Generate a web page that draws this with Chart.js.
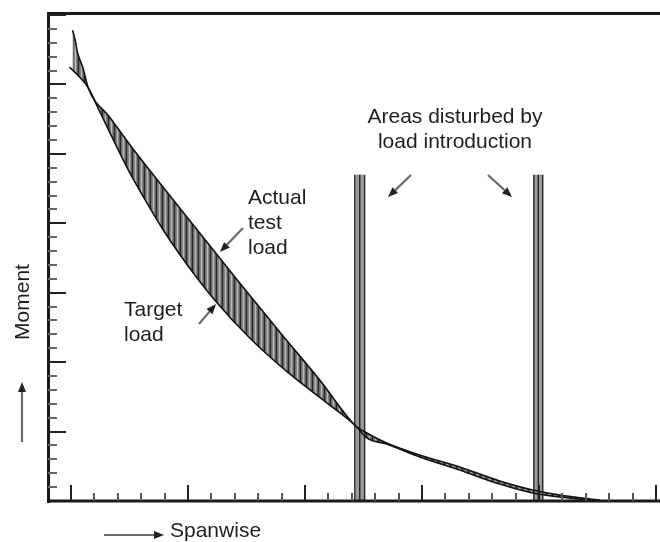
<!DOCTYPE html>
<html><head><meta charset="utf-8">
<script src="https://cdn.jsdelivr.net/npm/chart.js@4.4.1/dist/chart.umd.min.js"></script>
<style>html,body{margin:0;padding:0;background:#fff;}canvas{display:block;}</style>
</head><body>
<canvas id="c" width="660" height="542"></canvas>
<script>
// ---- data (spanwise position, moment) ----
const actualX = [0.07, 0.18, 0.28, 0.50, 0.75, 1.65, 2.72, 4.00, 5.50, 7.21, 8.92, 10.63, 12.17, 12.64, 13.49, 14.90, 16.61, 18.32, 19.73, 20.88, 22.60];
const actualY = [33.9, 33.2, 32.3, 31.25, 29.7, 27.65, 25.2, 22.47, 19.3, 15.7, 12.17, 8.71, 5.4, 4.9, 4.18, 3.31, 2.45, 1.44, 0.79, 0.43, 0.07];
const targetX = [-0.06, 0.37, 0.75, 1.22, 1.86, 2.50, 3.15, 4.00, 5.07, 6.14, 7.64, 9.35, 11.06, 12.17, 12.64, 13.49, 14.90, 16.61, 18.32, 19.73, 20.88, 22.60];
const targetY = [31.25, 30.53, 29.74, 28.08, 25.85, 23.69, 21.75, 19.37, 16.78, 14.48, 11.74, 9.15, 6.91, 5.4, 4.54, 4.1, 3.17, 2.23, 1.22, 0.58, 0.29, 0.0];
const dividerGroups = [[12.13, 12.34, 12.55], [19.78, 19.97, 20.16]];
const dividerTop = 23.5;
const xTickValues = [0,1,2,3,4,5,6,7,8,9,10,11,12,13,14,15,16,17,18,19,20,21,22,23,24,25];
const yTickValues = [1,2,3,4,5,6,7,8,9,10,11,12,13,14,15,16,17,18,19,20,21,22,23,24,25,26,27,28,29,30,31,32,33,34,35];
const majorEvery = 5;
const labels = {
  actual: ['Actual', 'test', 'load'],
  target: ['Target', 'load'],
  areas: ['Areas disturbed by', 'load introduction'],
  xTitle: 'Spanwise',
  yTitle: 'Moment'
};

const canvas = document.getElementById('c');
const ctx0 = canvas.getContext('2d');
function hatchPattern() {
  const p = document.createElement('canvas');
  p.width = 6; p.height = 4;
  const g = p.getContext('2d');
  const cols = ['#262626', '#6e6e6e', '#848484', '#bcbcbc', '#848484', '#606060'];
  cols.forEach((c, i) => { g.fillStyle = c; g.fillRect(i, 0, 1, 4); });
  return ctx0.createPattern(p, 'repeat');
}
const toPts = (xs, ys) => xs.map((x, i) => ({x, y: ys[i]}));

const datasets = [
  { label: 'Actual test load', data: toPts(actualX, actualY), borderColor: '#111', borderWidth: 1.6,
    backgroundColor: hatchPattern(), fill: { target: 1 }, order: 0 },
  { label: 'Target load', data: toPts(targetX, targetY), borderColor: '#111', borderWidth: 1.6, fill: false, order: 0 }
];
dividerGroups.forEach(g => {
  datasets.push({ data: [{x: g[1], y: 0}, {x: g[1], y: dividerTop}], borderColor: '#9a9a9a', borderWidth: 9, fill: false, order: 2 });
  g.forEach(x => datasets.push({ data: [{x, y: 0}, {x, y: dividerTop}], borderColor: '#252525', borderWidth: 1.4, fill: false, order: 1 }));
});

function arrow(ctx, x1, y1, x2, y2) {
  const ang = Math.atan2(y2 - y1, x2 - x1);
  const hl = 10, hw = 4;
  const bx = x2 - Math.cos(ang) * hl, by = y2 - Math.sin(ang) * hl;
  ctx.strokeStyle = '#6a6a6a'; ctx.lineWidth = 2.2;
  ctx.beginPath(); ctx.moveTo(x1, y1); ctx.lineTo(bx, by); ctx.stroke();
  ctx.fillStyle = '#222';
  ctx.beginPath();
  ctx.moveTo(x2, y2);
  ctx.lineTo(bx + Math.sin(ang) * hw, by - Math.cos(ang) * hw);
  ctx.lineTo(bx - Math.sin(ang) * hw, by + Math.cos(ang) * hw);
  ctx.closePath(); ctx.fill();
}

const decor = {
  id: 'decor',
  afterDatasetsDraw(chart) {
    const ctx = chart.ctx, a = chart.chartArea, xs = chart.scales.x, ys = chart.scales.y;
    ctx.save();
    // axes frame
    ctx.fillStyle = '#1a1a1a';
    ctx.fillRect(a.left - 1, a.top - 3, 3, a.bottom - a.top + 5);
    ctx.fillRect(a.left - 1, a.top - 3, a.right - a.left + 1, 3);
    ctx.fillRect(a.left - 1, a.bottom - 1.5, a.right - a.left + 1, 3);
    // ticks (inward)
    ctx.lineWidth = 2;
    xTickValues.forEach(v => {
      const px = Math.round(xs.getPixelForValue(v));
      const major = v % majorEvery === 0;
      ctx.strokeStyle = major ? '#222' : '#555';
      const len = major ? 16 : 8;
      ctx.beginPath(); ctx.moveTo(px, a.bottom); ctx.lineTo(px, a.bottom - len); ctx.stroke();
    });
    yTickValues.forEach(v => {
      const py = Math.round(ys.getPixelForValue(v));
      const major = v % majorEvery === 0;
      ctx.strokeStyle = major ? '#222' : '#666';
      const len = major ? 18 : 9;
      ctx.beginPath(); ctx.moveTo(a.left, py); ctx.lineTo(a.left + len, py); ctx.stroke();
    });
    // texts
    ctx.fillStyle = '#1e1e1e';
    ctx.font = '21px "Liberation Sans", Arial, sans-serif';
    ctx.textBaseline = 'middle';
    ctx.textAlign = 'center';
    labels.areas.forEach((t, i) => ctx.fillText(t, 455, 117 + i * 25));
    ctx.textAlign = 'left';
    labels.actual.forEach((t, i) => ctx.fillText(t, 248, 198 + i * 25));
    labels.target.forEach((t, i) => ctx.fillText(t, 124, 310 + i * 25));
    ctx.fillText(labels.xTitle, 170, 531);
    ctx.save();
    ctx.translate(23, 302); ctx.rotate(-Math.PI / 2);
    ctx.textAlign = 'center';
    ctx.fillText(labels.yTitle, 0, 0);
    ctx.restore();
    // arrows
    arrow(ctx, 243, 228, 220, 252);
    arrow(ctx, 199, 324, 216, 304);
    arrow(ctx, 411, 175, 388, 197);
    arrow(ctx, 488, 175, 512, 197);
    arrow(ctx, 104, 535, 164, 535);
    arrow(ctx, 22, 442, 22, 382);
    ctx.restore();
  }
};

new Chart(canvas, {
  type: 'line',
  data: { datasets },
  options: {
    responsive: false,
    animation: false,
    layout: { padding: { left: 48, right: 0, top: 15, bottom: 41 } },
    elements: { point: { radius: 0 }, line: { cubicInterpolationMode: 'monotone' } },
    scales: {
      x: { type: 'linear', min: -0.98, max: 25.17, display: false },
      y: { type: 'linear', min: 0, max: 35, display: false }
    },
    plugins: { legend: { display: false }, tooltip: { enabled: false }, filler: { drawTime: 'beforeDatasetsDraw' } }
  },
  plugins: [decor]
});
</script>
</body></html>
